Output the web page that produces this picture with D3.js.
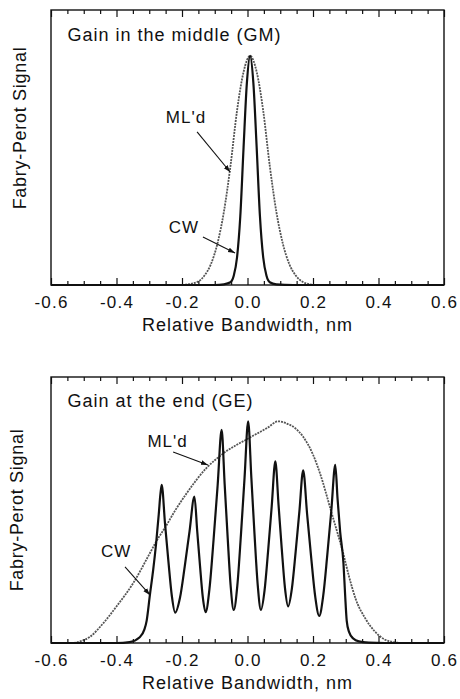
<!DOCTYPE html>
<html>
<head>
<meta charset="utf-8">
<script src="https://cdnjs.cloudflare.com/ajax/libs/d3/7.8.5/d3.min.js"></script>
<style>
  body { margin: 0; background: #fff; }
  text { font-family: "Liberation Sans", Arial, Helvetica, sans-serif; fill: #111; }
</style>
</head>
<body>
<div class="chart"></div>
<script>
var svgWidth = 460;
var svgHeight = 699;

// tick values + labels (x axis shared by both panels)
var majorTicks = [-0.6, -0.4, -0.2, 0.0, 0.2, 0.4, 0.6];
var tickLabels = ["-0.6", "-0.4", "-0.2", "0.0", "0.2", "0.4", "0.6"];
var minorTicks = [-0.55, -0.5, -0.45, -0.35, -0.3, -0.25, -0.15, -0.1, -0.05,
  0.05, 0.1, 0.15, 0.25, 0.3, 0.35, 0.45, 0.5, 0.55];

// Gain in the middle (GM), [bandwidth, signal]
var gmCW = [[-0.6, 0], [-0.1, 0], [-0.072, 0.003], [-0.052, 0.012], [-0.042, 0.04],
  [-0.032, 0.12], [-0.022, 0.30], [-0.012, 0.60], [-0.002, 0.88], [0.008, 1.0],
  [0.018, 0.88], [0.028, 0.60], [0.038, 0.30], [0.048, 0.12], [0.058, 0.04],
  [0.068, 0.012], [0.088, 0.003], [0.14, 0], [0.6, 0]];

var gmML = [[-0.2, 0], [-0.182, 0.003], [-0.152, 0.014], [-0.132, 0.04], [-0.112, 0.09],
  [-0.092, 0.18], [-0.072, 0.32], [-0.052, 0.52], [-0.032, 0.76], [-0.012, 0.93],
  [0.008, 1.0], [0.028, 0.93], [0.048, 0.76], [0.068, 0.52], [0.088, 0.32],
  [0.108, 0.18], [0.128, 0.09], [0.148, 0.04], [0.168, 0.014], [0.19, 0.003], [0.21, 0]];

// Gain at the end (GE)
var geCW = [[-0.6, 0], [-0.4, 0], [-0.36, 0.004], [-0.33, 0.025], [-0.315, 0.06],
  [-0.308, 0.10], [-0.298, 0.217], [-0.288, 0.33], [-0.279, 0.45], [-0.271, 0.58],
  [-0.266, 0.67], [-0.262, 0.714],
  [-0.252, 0.541], [-0.2415, 0.368], [-0.231, 0.212], [-0.221, 0.137],
  [-0.206, 0.205], [-0.1915, 0.347], [-0.177, 0.504], [-0.162, 0.661],
  [-0.1535, 0.504], [-0.145, 0.348], [-0.1365, 0.207], [-0.128, 0.139],
  [-0.116, 0.246], [-0.1035, 0.468], [-0.091, 0.715], [-0.079, 0.962],
  [-0.0698, 0.718], [-0.0605, 0.474], [-0.0513, 0.255], [-0.042, 0.149],
  [-0.031, 0.26], [-0.020, 0.489], [-0.009, 0.745], [0.002, 1.0],
  [0.0118, 0.745], [0.0215, 0.489], [0.0313, 0.26], [0.041, 0.149],
  [0.052, 0.236], [0.063, 0.417], [0.074, 0.618], [0.085, 0.819],
  [0.0948, 0.623], [0.1045, 0.427], [0.1143, 0.25], [0.124, 0.165],
  [0.1355, 0.245], [0.147, 0.411], [0.1585, 0.595], [0.170, 0.779],
  [0.182, 0.582], [0.1945, 0.385], [0.207, 0.207], [0.219, 0.122],
  [0.231, 0.211], [0.2435, 0.395], [0.256, 0.599], [0.268, 0.804],
  [0.275, 0.65], [0.283, 0.50], [0.293, 0.36], [0.298, 0.22], [0.303, 0.10],
  [0.31, 0.05], [0.323, 0.02], [0.34, 0.007], [0.37, 0.002], [0.42, 0], [0.6, 0]];

var geML = [[-0.53, 0], [-0.505, 0.01], [-0.481, 0.028], [-0.44, 0.09], [-0.40, 0.165],
  [-0.349, 0.27], [-0.30, 0.40], [-0.276, 0.465], [-0.252, 0.52], [-0.22, 0.60],
  [-0.186, 0.675], [-0.125, 0.79], [-0.074, 0.855], [0.005, 0.925], [0.06, 0.97],
  [0.094, 1.0], [0.12, 0.99], [0.145, 0.97], [0.17, 0.93], [0.20, 0.85],
  [0.221, 0.767], [0.257, 0.586], [0.293, 0.40], [0.31, 0.30], [0.33, 0.20],
  [0.36, 0.11], [0.39, 0.05], [0.42, 0.015], [0.45, 0.003], [0.47, 0]];

var panels = [
  {
    top: 10, bottom: 285, left: 51, right: 444,
    title: "Gain in the middle (GM)",
    cw: gmCW, ml: gmML,
    yLabelY: 128, yLabelX: 26,
    labels: [
      { text: "ML'd", x: -0.188, y: 0.707, from: [-0.154, 0.668], to: [-0.053, 0.493] },
      { text: "CW", x: -0.194, y: 0.227, from: [-0.136, 0.209], to: [-0.038, 0.14] }
    ]
  },
  {
    top: 377, bottom: 643, left: 51, right: 444,
    title: "Gain at the end (GE)",
    cw: geCW, ml: geML,
    yLabelY: 510, yLabelX: 23,
    labels: [
      { text: "ML'd", x: -0.244, y: 0.884, from: [-0.227, 0.862], to: [-0.121, 0.803] },
      { text: "CW", x: -0.401, y: 0.388, from: [-0.374, 0.343], to: [-0.298, 0.217] }
    ]
  }
];

var svg = d3.select(".chart")
  .append("svg")
  .attr("width", svgWidth)
  .attr("height", svgHeight)
  .style("display", "block");

// arrow head for the labels
svg.append("defs").append("marker")
  .attr("id", "arrow")
  .attr("markerUnits", "userSpaceOnUse")
  .attr("markerWidth", 8)
  .attr("markerHeight", 6)
  .attr("refX", 7)
  .attr("refY", 3)
  .attr("orient", "auto")
  .append("path")
  .attr("d", "M0,0.6 L7,3 L0,5.4 Z")
  .attr("fill", "#111");

panels.forEach(function(p) {
  var x = d3.scaleLinear().domain([-0.6, 0.6]).range([p.left, p.right]);
  var y = d3.scaleLinear().domain([0, 1.2]).range([p.bottom, p.top]);

  var g = svg.append("g");

  var line = d3.line()
    .x(d => x(d[0]))
    .y(d => y(d[1]))
    .curve(d3.curveMonotoneX);

  // ML'd curve (dotted grey)
  g.append("path")
    .datum(p.ml)
    .attr("d", line)
    .attr("fill", "none")
    .attr("stroke", "#555")
    .attr("stroke-width", 1.8)
    .attr("stroke-dasharray", "2,1");

  // CW curve
  g.append("path")
    .datum(p.cw)
    .attr("d", line)
    .attr("fill", "none")
    .attr("stroke", "#111")
    .attr("stroke-width", 2.2)
    .attr("stroke-linejoin", "round");

  // ticks: minor + major, bottom and top, pointing inward
  var bottomMinor = d3.axisBottom(x).tickValues(minorTicks).tickSize(-4).tickFormat("");
  var topMinor = d3.axisTop(x).tickValues(minorTicks).tickSize(-4).tickFormat("");
  var bottomMajor = d3.axisBottom(x).tickValues(majorTicks).tickSize(-7).tickPadding(11)
    .tickFormat((d, i) => tickLabels[i]);
  var topMajor = d3.axisTop(x).tickValues(majorTicks).tickSize(-7).tickFormat("");

  [
    [bottomMinor, p.bottom], [topMinor, p.top], [bottomMajor, p.bottom], [topMajor, p.top]
  ].forEach(function(a) {
    var ax = g.append("g")
      .attr("transform", `translate(0, ${a[1]})`)
      .call(a[0]);
    ax.select(".domain").remove();
    ax.selectAll("line").attr("stroke", "#111").attr("stroke-width", 1.2);
    ax.selectAll("text")
      .attr("font-size", 17)
      .attr("letter-spacing", 1.2)
      .attr("fill", "#111")
      .style("font-family", "'Liberation Sans', Arial, sans-serif");
  });

  // frame
  g.append("rect")
    .attr("x", p.left)
    .attr("y", p.top)
    .attr("width", p.right - p.left)
    .attr("height", p.bottom - p.top)
    .attr("fill", "none")
    .attr("stroke", "#111")
    .attr("stroke-width", 1.4);

  // panel title
  g.append("text")
    .attr("x", x(-0.55))
    .attr("y", y(1.065))
    .attr("font-size", 18)
    .attr("letter-spacing", 1)
    .text(p.title);

  // curve labels + arrows
  p.labels.forEach(function(l) {
    g.append("text")
      .attr("x", x(l.x))
      .attr("y", y(l.y))
      .attr("text-anchor", "middle")
      .attr("font-size", 17)
      .attr("letter-spacing", 1)
      .text(l.text);
    g.append("line")
      .attr("x1", x(l.from[0]))
      .attr("y1", y(l.from[1]))
      .attr("x2", x(l.to[0]))
      .attr("y2", y(l.to[1]))
      .attr("stroke", "#111")
      .attr("stroke-width", 1.1)
      .attr("marker-end", "url(#arrow)");
  });

  // axis labels
  g.append("text")
    .attr("transform", `translate(${p.yLabelX}, ${p.yLabelY}) rotate(-90)`)
    .attr("text-anchor", "middle")
    .attr("font-size", 18)
    .attr("letter-spacing", 0.7)
    .text("Fabry-Perot Signal");

  g.append("text")
    .attr("x", (p.left + p.right) / 2)
    .attr("y", p.bottom + 46)
    .attr("text-anchor", "middle")
    .attr("font-size", 18)
    .attr("letter-spacing", 1)
    .text("Relative Bandwidth, nm");
});
</script>
</body>
</html>
